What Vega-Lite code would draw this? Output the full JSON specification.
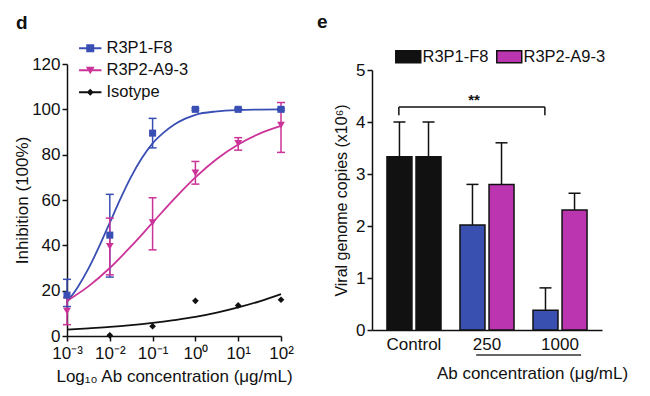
{
  "$schema": "https://vega.github.io/schema/vega-lite/v6.json",
  "background": "white",
  "padding": {"left": 13, "top": 12, "right": 5, "bottom": 5},
  "bounds": "flush",
  "center": true,
  "spacing": 91,
  "config": {
    "font": "Liberation Sans",
    "view": {"stroke": null},
    "axis": {
      "domainColor": "#111", "domainWidth": 1.5, "tickColor": "#111", "tickWidth": 1.5, "tickSize": 5,
      "labelColor": "#111", "labelFontSize": 17, "titleFontSize": 17, "titleFontWeight": "normal",
      "titleColor": "#111", "grid": false, "labelFlush": false, "labelOverlap": false
    },
    "legend": {"labelFontSize": 16.5, "labelColor": "#111", "symbolOpacity": 1}
  },
  "resolve": {
    "scale": {"x": "independent", "y": "independent", "color": "independent", "shape": "independent", "xOffset": "independent"},
    "legend": {"color": "independent", "shape": "independent"}
  },
  "datasets": {
    "fits": [
      {"conc": 0.001, "series": "R3P1-F8", "fit": 15},
      {"conc": 0.001778, "series": "R3P1-F8", "fit": 21.5},
      {"conc": 0.003162, "series": "R3P1-F8", "fit": 29.7},
      {"conc": 0.005623, "series": "R3P1-F8", "fit": 39.4},
      {"conc": 0.01, "series": "R3P1-F8", "fit": 50},
      {"conc": 0.01778, "series": "R3P1-F8", "fit": 60.6},
      {"conc": 0.03162, "series": "R3P1-F8", "fit": 70.3},
      {"conc": 0.05623, "series": "R3P1-F8", "fit": 78.5},
      {"conc": 0.1, "series": "R3P1-F8", "fit": 85},
      {"conc": 0.1778, "series": "R3P1-F8", "fit": 89.6},
      {"conc": 0.3162, "series": "R3P1-F8", "fit": 93.2},
      {"conc": 0.5623, "series": "R3P1-F8", "fit": 95.8},
      {"conc": 1, "series": "R3P1-F8", "fit": 97.6},
      {"conc": 3.162, "series": "R3P1-F8", "fit": 99.1},
      {"conc": 10, "series": "R3P1-F8", "fit": 99.7},
      {"conc": 31.62, "series": "R3P1-F8", "fit": 99.9},
      {"conc": 100, "series": "R3P1-F8", "fit": 100},
      {"conc": 0.001, "series": "R3P2-A9-3", "fit": 15.5},
      {"conc": 0.003162, "series": "R3P2-A9-3", "fit": 21.9},
      {"conc": 0.01, "series": "R3P2-A9-3", "fit": 30},
      {"conc": 0.03162, "series": "R3P2-A9-3", "fit": 39.6},
      {"conc": 0.1, "series": "R3P2-A9-3", "fit": 50},
      {"conc": 0.3162, "series": "R3P2-A9-3", "fit": 60.4},
      {"conc": 1, "series": "R3P2-A9-3", "fit": 70},
      {"conc": 3.162, "series": "R3P2-A9-3", "fit": 78.1},
      {"conc": 10, "series": "R3P2-A9-3", "fit": 84.5},
      {"conc": 31.62, "series": "R3P2-A9-3", "fit": 89.3},
      {"conc": 100, "series": "R3P2-A9-3", "fit": 92.7},
      {"conc": 0.001, "series": "Isotype", "fit": 2.8},
      {"conc": 0.003162, "series": "Isotype", "fit": 3.4},
      {"conc": 0.01, "series": "Isotype", "fit": 4.0},
      {"conc": 0.03162, "series": "Isotype", "fit": 4.8},
      {"conc": 0.1, "series": "Isotype", "fit": 5.8},
      {"conc": 0.3162, "series": "Isotype", "fit": 7.0},
      {"conc": 1, "series": "Isotype", "fit": 8.4},
      {"conc": 3.162, "series": "Isotype", "fit": 10.3},
      {"conc": 10, "series": "Isotype", "fit": 12.6},
      {"conc": 31.62, "series": "Isotype", "fit": 15.3},
      {"conc": 100, "series": "Isotype", "fit": 18.5}
    ],
    "pts": [
      {"conc": 0.001, "series": "R3P1-F8", "mean": 18, "lo": 13, "hi": 25},
      {"conc": 0.01, "series": "R3P1-F8", "mean": 44.5, "lo": 26, "hi": 62.5},
      {"conc": 0.1, "series": "R3P1-F8", "mean": 89.5, "lo": 83, "hi": 96},
      {"conc": 1, "series": "R3P1-F8", "mean": 100, "lo": 99.5, "hi": 100.5},
      {"conc": 10, "series": "R3P1-F8", "mean": 100, "lo": 99.5, "hi": 100.5},
      {"conc": 100, "series": "R3P1-F8", "mean": 100, "lo": 99.5, "hi": 100.5},
      {"conc": 0.001, "series": "R3P2-A9-3", "mean": 11, "lo": 5, "hi": 17},
      {"conc": 0.01, "series": "R3P2-A9-3", "mean": 39.5, "lo": 27, "hi": 52},
      {"conc": 0.1, "series": "R3P2-A9-3", "mean": 50, "lo": 38, "hi": 61},
      {"conc": 1, "series": "R3P2-A9-3", "mean": 72, "lo": 67, "hi": 77},
      {"conc": 10, "series": "R3P2-A9-3", "mean": 85, "lo": 82, "hi": 87.5},
      {"conc": 100, "series": "R3P2-A9-3", "mean": 93, "lo": 81, "hi": 103},
      {"conc": 0.01, "series": "Isotype", "mean": 0.3},
      {"conc": 0.1, "series": "Isotype", "mean": 4.3},
      {"conc": 1, "series": "Isotype", "mean": 15.5},
      {"conc": 10, "series": "Isotype", "mean": 13.5},
      {"conc": 100, "series": "Isotype", "mean": 16}
    ],
    "bars": [
      {"conc": "Control", "ab": "R3P1-F8", "key": "Control", "mean": 3.33, "hi": 4.0},
      {"conc": "Control", "ab": "R3P2-A9-3", "key": "Control", "mean": 3.33, "hi": 4.0},
      {"conc": "250", "ab": "R3P1-F8", "key": "R3P1-F8", "mean": 2.02, "hi": 2.8},
      {"conc": "250", "ab": "R3P2-A9-3", "key": "R3P2-A9-3", "mean": 2.8, "hi": 3.6},
      {"conc": "1000", "ab": "R3P1-F8", "key": "R3P1-F8", "mean": 0.38, "hi": 0.81},
      {"conc": "1000", "ab": "R3P2-A9-3", "key": "R3P2-A9-3", "mean": 2.31, "hi": 2.63}
    ]
  },
  "hconcat": [
    {
      "width": 214,
      "height": 272,
      "title": {"text": "d", "anchor": "start", "frame": "group", "dx": -51, "offset": -8, "baseline": "alphabetic", "fontSize": 19, "fontWeight": "bold", "color": "#111"},
      "encoding": {
        "x": {
          "field": "conc", "type": "quantitative",
          "scale": {"type": "log", "domain": [0.001, 100], "nice": false},
          "axis": {
            "values": [0.001, 0.01, 0.1, 1, 10, 100],
            "labelExpr": "datum.value < 0.005 ? '10⁻³' : datum.value < 0.05 ? '10⁻²' : datum.value < 0.5 ? '10⁻¹' : datum.value < 5 ? '10⁰' : datum.value < 50 ? '10¹' : '10²'",
            "title": "Log₁₀ Ab concentration (μg/mL)", "labelPadding": 4, "titlePadding": 7
          }
        }
      },
      "layer": [
        {
          "data": {"name": "fits"},
          "mark": {"type": "line", "strokeWidth": 1.8, "interpolate": "monotone"},
          "encoding": {
            "y": {"field": "fit", "type": "quantitative", "scale": {"domain": [0, 120], "nice": false}, "axis": {"values": [0, 20, 40, 60, 80, 100, 120], "title": "Inhibition (100%)", "titlePadding": 0, "labelPadding": 2}},
            "stroke": {"field": "series", "type": "nominal", "scale": {"domain": ["Isotype", "R3P1-F8", "R3P2-A9-3"], "range": ["#111111", "#3a4fb4", "#cc3399"]}, "legend": null}
          }
        },
        {
          "data": {"name": "pts"},
          "transform": [{"filter": "isValid(datum.lo)"}],
          "mark": {"type": "rule", "strokeWidth": 1.5},
          "encoding": {
            "y": {"field": "lo", "type": "quantitative", "scale": {"domain": [0, 120], "nice": false}, "axis": {"values": [0, 20, 40, 60, 80, 100, 120], "title": "Inhibition (100%)", "titlePadding": 0, "labelPadding": 2}},
            "y2": {"field": "hi"},
            "stroke": {"field": "series", "type": "nominal", "scale": {"domain": ["Isotype", "R3P1-F8", "R3P2-A9-3"], "range": ["#111111", "#3a4fb4", "#cc3399"]}, "legend": null}
          }
        },
        {
          "data": {"name": "pts"},
          "transform": [{"filter": "isValid(datum.lo)"}],
          "mark": {"type": "tick", "orient": "horizontal", "size": 8, "thickness": 1.5, "opacity": 1},
          "encoding": {
            "y": {"field": "lo", "type": "quantitative", "scale": {"domain": [0, 120], "nice": false}, "axis": {"values": [0, 20, 40, 60, 80, 100, 120], "title": "Inhibition (100%)", "titlePadding": 0, "labelPadding": 2}},
            "fill": {"field": "series", "type": "nominal", "scale": {"domain": ["R3P2-A9-3", "Isotype", "R3P1-F8"], "range": ["#cc3399", "#111111", "#3a4fb4"]}, "legend": null}
          }
        },
        {
          "data": {"name": "pts"},
          "transform": [{"filter": "isValid(datum.hi)"}],
          "mark": {"type": "tick", "orient": "horizontal", "size": 8, "thickness": 1.5, "opacity": 1},
          "encoding": {
            "y": {"field": "hi", "type": "quantitative", "scale": {"domain": [0, 120], "nice": false}, "axis": {"values": [0, 20, 40, 60, 80, 100, 120], "title": "Inhibition (100%)", "titlePadding": 0, "labelPadding": 2}},
            "fill": {"field": "series", "type": "nominal", "scale": {"domain": ["R3P2-A9-3", "Isotype", "R3P1-F8"], "range": ["#cc3399", "#111111", "#3a4fb4"]}, "legend": null}
          }
        },
        {
          "data": {"name": "pts"},
          "transform": [{"filter": "datum.series == 'R3P1-F8'"}],
          "mark": {"type": "point", "shape": "square", "filled": true, "size": 50, "color": "#3a4fb4", "opacity": 1},
          "encoding": {
            "y": {"field": "mean", "type": "quantitative", "scale": {"domain": [0, 120], "nice": false}, "axis": {"values": [0, 20, 40, 60, 80, 100, 120], "title": "Inhibition (100%)", "titlePadding": 0, "labelPadding": 2}}
          }
        },
        {
          "data": {"name": "pts"},
          "transform": [{"filter": "datum.series == 'R3P2-A9-3'"}],
          "mark": {"type": "point", "shape": "triangle-down", "filled": true, "size": 60, "color": "#cc3399", "opacity": 1},
          "encoding": {
            "y": {"field": "mean", "type": "quantitative", "scale": {"domain": [0, 120], "nice": false}, "axis": {"values": [0, 20, 40, 60, 80, 100, 120], "title": "Inhibition (100%)", "titlePadding": 0, "labelPadding": 2}}
          }
        },
        {
          "data": {"name": "pts"},
          "transform": [{"filter": "datum.series == 'Isotype'"}],
          "mark": {"type": "point", "shape": "diamond", "filled": true, "size": 45, "color": "#111111", "opacity": 1},
          "encoding": {
            "y": {"field": "mean", "type": "quantitative", "scale": {"domain": [0, 120], "nice": false}, "axis": {"values": [0, 20, 40, 60, 80, 100, 120], "title": "Inhibition (100%)", "titlePadding": 0, "labelPadding": 2}}
          }
        },
        {
          "data": {"name": "pts"},
          "mark": {"type": "point", "filled": true, "opacity": 0},
          "encoding": {
            "y": {"field": "mean", "type": "quantitative", "scale": {"domain": [0, 120], "nice": false}, "axis": {"values": [0, 20, 40, 60, 80, 100, 120], "title": "Inhibition (100%)", "titlePadding": 0, "labelPadding": 2}},
            "color": {
              "field": "series", "type": "nominal",
              "scale": {"domain": ["R3P1-F8", "R3P2-A9-3", "Isotype"], "range": ["#3a4fb4", "#cc3399", "#111111"]},
              "legend": {"orient": "none", "legendX": 15, "legendY": -24, "title": null, "symbolSize": 256, "labelOffset": 8, "rowPadding": 5, "symbolStrokeWidth": 0, "symbolOpacity": 1, "labelFontSize": 16.5}
            },
            "shape": {
              "field": "series", "type": "nominal",
              "scale": {"domain": ["R3P1-F8", "R3P2-A9-3", "Isotype"], "range": [
                "M-1.4,-0.12H1.4V0.12H-1.4ZM-0.5,-0.5H0.5V0.5H-0.5Z",
                "M-1.4,-0.12H1.4V0.12H-1.4ZM-0.55,-0.45H0.55L0,0.5Z",
                "M-1.4,-0.12H1.4V0.12H-1.4ZM0,-0.45L0.45,0L0,0.45L-0.45,0Z"
              ]},
              "legend": {"orient": "none", "legendX": 15, "legendY": -24, "title": null, "symbolSize": 256, "labelOffset": 8, "rowPadding": 5, "symbolStrokeWidth": 0, "symbolOpacity": 1, "labelFontSize": 16.5}
            }
          }
        }
      ]
    },
    {
      "width": 230,
      "height": 260,
      "title": {"text": "e", "anchor": "start", "frame": "group", "dx": -55, "offset": 1.5, "baseline": "alphabetic", "fontSize": 19, "fontWeight": "bold", "color": "#111"},
      "layer": [
        {
          "data": {"name": "bars"},
          "mark": {"type": "rule", "color": "#111", "strokeWidth": 1.5},
          "encoding": {
            "x": {"field": "conc", "type": "nominal", "sort": null, "scale": {"domain": ["Control", "250", "1000"], "paddingInner": 0.26, "paddingOuter": 0.205}, "axis": {"title": "Ab concentration (μg/mL)", "ticks": false, "labelAngle": 0, "labelPadding": 6, "titleX": 160, "titleY": 35, "titleAlign": "center", "titleBaseline": "top"}},
            "xOffset": {"field": "ab", "type": "nominal", "scale": {"domain": ["R3P1-F8", "R3P2-A9-3"], "paddingInner": 0.14, "paddingOuter": 0}},
            "y": {"field": "mean", "type": "quantitative", "scale": {"domain": [0, 5], "nice": false}, "axis": {"values": [0, 1, 2, 3, 4, 5], "title": "Viral genome copies (x10⁶)", "titlePadding": 6, "titleFontSize": 16}},
            "y2": {"field": "hi"}
          }
        },
        {
          "data": {"name": "bars"},
          "mark": {"type": "tick", "orient": "horizontal", "color": "#111", "thickness": 1.5, "size": 12, "opacity": 1},
          "encoding": {
            "x": {"field": "conc", "type": "nominal", "sort": null, "scale": {"domain": ["Control", "250", "1000"], "paddingInner": 0.26, "paddingOuter": 0.205}, "axis": {"title": "Ab concentration (μg/mL)", "ticks": false, "labelAngle": 0, "labelPadding": 6, "titleX": 160, "titleY": 35, "titleAlign": "center", "titleBaseline": "top"}},
            "xOffset": {"field": "ab", "type": "nominal", "scale": {"domain": ["R3P1-F8", "R3P2-A9-3"], "paddingInner": 0.14, "paddingOuter": 0}},
            "y": {"field": "hi", "type": "quantitative", "scale": {"domain": [0, 5], "nice": false}, "axis": {"values": [0, 1, 2, 3, 4, 5], "title": "Viral genome copies (x10⁶)", "titlePadding": 6, "titleFontSize": 16}}
          }
        },
        {
          "data": {"name": "bars"},
          "mark": {"type": "bar", "stroke": "#111", "strokeWidth": 1.5, "opacity": 1},
          "encoding": {
            "x": {"field": "conc", "type": "nominal", "sort": null, "scale": {"domain": ["Control", "250", "1000"], "paddingInner": 0.26, "paddingOuter": 0.205}, "axis": {"title": "Ab concentration (μg/mL)", "ticks": false, "labelAngle": 0, "labelPadding": 6, "titleX": 160, "titleY": 35, "titleAlign": "center", "titleBaseline": "top"}},
            "xOffset": {"field": "ab", "type": "nominal", "scale": {"domain": ["R3P1-F8", "R3P2-A9-3"], "paddingInner": 0.14, "paddingOuter": 0}},
            "y": {"field": "mean", "type": "quantitative", "scale": {"domain": [0, 5], "nice": false}, "axis": {"values": [0, 1, 2, 3, 4, 5], "title": "Viral genome copies (x10⁶)", "titlePadding": 6, "titleFontSize": 16}},
            "color": {
              "field": "key", "type": "nominal",
              "scale": {"domain": ["Control", "R3P1-F8", "R3P2-A9-3"], "range": ["#111111", "#3a50b0", "#bb35b0"]},
              "legend": {
                "orient": "none", "legendX": 28, "legendY": -22, "direction": "horizontal", "columns": 2,
                "values": ["Control", "R3P2-A9-3"],
                "labelExpr": "datum.label == 'Control' ? 'R3P1-F8' : datum.label",
                "title": null, "symbolType": "M-2.08,-1H2.08V1H-2.08Z", "symbolSize": 144,
                "symbolStrokeColor": "#111", "symbolStrokeWidth": 1.5, "labelOffset": 6, "columnPadding": 4, "labelFontSize": 16.5, "symbolOpacity": 1
              }
            }
          }
        },
        {
          "data": {"values": [{"from": "Control", "to": "1000", "level": 4.29}]},
          "mark": {"type": "rule", "color": "#111", "strokeWidth": 1.5},
          "encoding": {
            "x": {"field": "from", "type": "nominal", "bandPosition": 0.22, "scale": {"domain": ["Control", "250", "1000"], "paddingInner": 0.26, "paddingOuter": 0.205}, "axis": {"title": "Ab concentration (μg/mL)", "ticks": false, "labelAngle": 0, "labelPadding": 6, "titleX": 160, "titleY": 35, "titleAlign": "center", "titleBaseline": "top"}},
            "x2": {"field": "to", "bandPosition": 0.22},
            "y": {"field": "level", "type": "quantitative", "scale": {"domain": [0, 5], "nice": false}, "axis": {"values": [0, 1, 2, 3, 4, 5], "title": "Viral genome copies (x10⁶)", "titlePadding": 6, "titleFontSize": 16}}
          }
        },
        {
          "data": {"values": [{"at": "Control", "top": 4.29, "bottom": 4.13}, {"at": "1000", "top": 4.29, "bottom": 4.13}]},
          "mark": {"type": "rule", "color": "#111", "strokeWidth": 1.5},
          "encoding": {
            "x": {"field": "at", "type": "nominal", "bandPosition": 0.22, "scale": {"domain": ["Control", "250", "1000"], "paddingInner": 0.26, "paddingOuter": 0.205}, "axis": {"title": "Ab concentration (μg/mL)", "ticks": false, "labelAngle": 0, "labelPadding": 6, "titleX": 160, "titleY": 35, "titleAlign": "center", "titleBaseline": "top"}},
            "y": {"field": "top", "type": "quantitative", "scale": {"domain": [0, 5], "nice": false}, "axis": {"values": [0, 1, 2, 3, 4, 5], "title": "Viral genome copies (x10⁶)", "titlePadding": 6, "titleFontSize": 16}},
            "y2": {"field": "bottom"}
          }
        },
        {
          "data": {"values": [{"at": "250", "level": 4.42, "label": "**"}]},
          "mark": {"type": "text", "fontSize": 15, "fontWeight": "bold", "color": "#111", "baseline": "middle"},
          "encoding": {
            "x": {"field": "at", "type": "nominal", "bandPosition": 0.26, "scale": {"domain": ["Control", "250", "1000"], "paddingInner": 0.26, "paddingOuter": 0.205}, "axis": {"title": "Ab concentration (μg/mL)", "ticks": false, "labelAngle": 0, "labelPadding": 6, "titleX": 160, "titleY": 35, "titleAlign": "center", "titleBaseline": "top"}},
            "y": {"field": "level", "type": "quantitative", "scale": {"domain": [0, 5], "nice": false}, "axis": {"values": [0, 1, 2, 3, 4, 5], "title": "Viral genome copies (x10⁶)", "titlePadding": 6, "titleFontSize": 16}},
            "text": {"field": "label"}
          }
        },
        {
          "data": {"values": [{"from": "250", "to": "1000", "level": -0.48}]},
          "mark": {"type": "rule", "color": "#333", "strokeWidth": 1.5, "clip": false},
          "encoding": {
            "x": {"field": "from", "type": "nominal", "bandPosition": 0.3, "scale": {"domain": ["Control", "250", "1000"], "paddingInner": 0.26, "paddingOuter": 0.205}, "axis": {"title": "Ab concentration (μg/mL)", "ticks": false, "labelAngle": 0, "labelPadding": 6, "titleX": 160, "titleY": 35, "titleAlign": "center", "titleBaseline": "top"}},
            "x2": {"field": "to", "bandPosition": 0.89},
            "y": {"field": "level", "type": "quantitative", "scale": {"domain": [0, 5], "nice": false}, "axis": {"values": [0, 1, 2, 3, 4, 5], "title": "Viral genome copies (x10⁶)", "titlePadding": 6, "titleFontSize": 16}}
          }
        }
      ]
    }
  ]
}
